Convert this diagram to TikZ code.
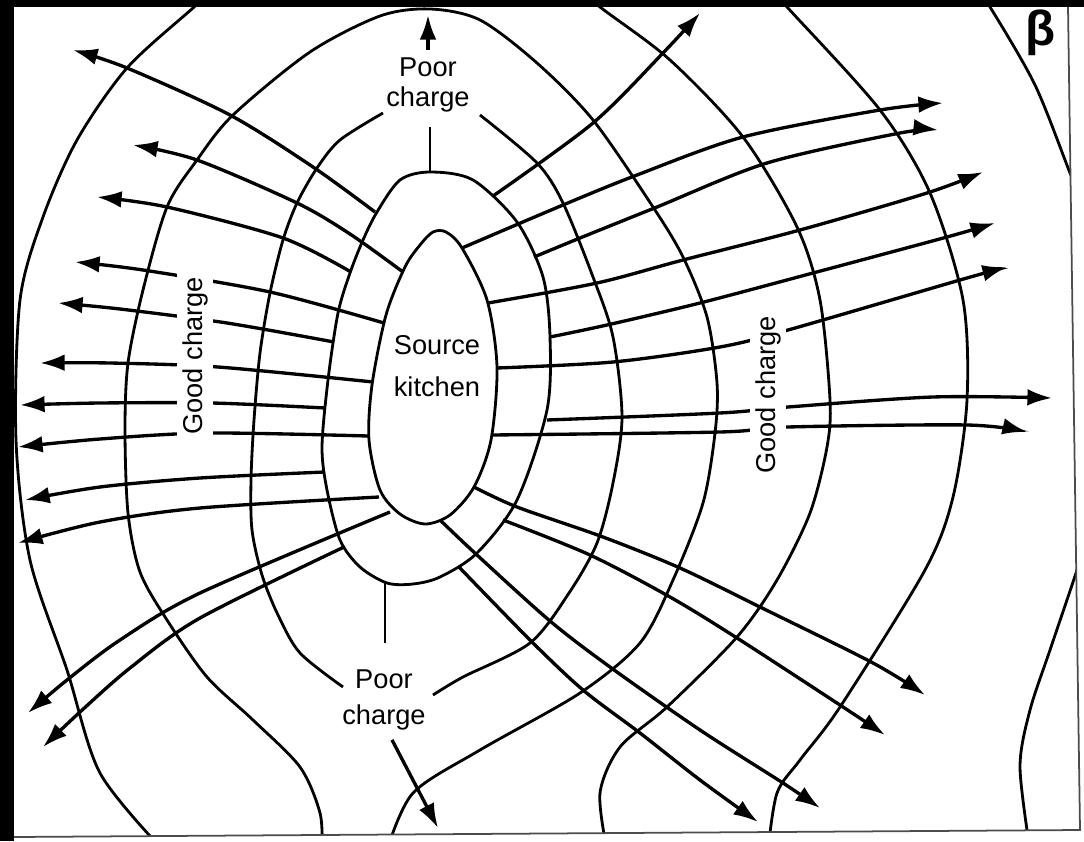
\documentclass[tikz,border=0pt]{standalone}
\usepackage{fontspec}
\setmainfont{Liberation Sans}
\usetikzlibrary{arrows.meta}
\begin{document}
\begin{tikzpicture}[x=0.02cm,y=-0.02cm,
    cont/.style={line width=1.6pt},
    flow/.style={line width=1.9pt,-{Latex[length=14pt,width=9.5pt]}},
    lbl/.style={font=\fontsize{15.5}{17}\selectfont,align=center,inner sep=1pt},
    gap/.style={lbl,fill=white,inner sep=3pt,rotate=90}]
    \useasboundingbox (0,0) rectangle (1084,841);
    \begin{scope}
        \clip (14,7) -- (1068,7) -- (1080,830) -- (14,837) -- cycle;
        % contours
        \draw[cont] plot[smooth cycle] coordinates {(433,232) (446,232) (462,248) (487,300) (497,367) (491,440) (474,487) (450,515) (425,524) (400,514) (380,490) (369,440) (372,385) (386,315) (405,267) (420,245)};
        \draw[cont] plot[smooth cycle] coordinates {(430,172) (473,180) (517,222) (543,277) (550,337) (547,410) (517,500) (477,553) (440,577) (413,584) (387,583) (360,567) (340,540) (327,490) (322,447) (328,380) (338,313) (350,273) (363,240) (377,212) (400,180)};
        \draw[cont] plot[smooth] coordinates {(480,115) (537,163) (563,203) (593,277) (613,337) (622,417) (613,483) (597,543) (569,593) (530,643) (463,677) (433,695)};
        \draw[cont] plot[smooth] coordinates {(383,113) (340,140) (317,168) (297,203) (283,240) (270,293) (260,353) (254,420) (251,480) (252,530) (262,575) (278,615) (300,653) (343,687)};
        \draw[cont] plot[smooth] coordinates {(322,850) (320,813) (300,767) (253,720) (207,677) (167,620) (140,572) (128,513) (125,430) (128,363) (143,290) (167,207) (197,160) (233,115) (310,52) (380,16) (430,9) (480,20) (537,63) (593,120) (653,207) (683,257) (707,317) (717,383) (715,433) (703,503) (673,580) (640,643) (580,693) (480,750) (413,793) (387,850)};
        \draw[cont] plot[smooth] coordinates {(163,850) (100,773) (67,670) (30,560) (16,440) (20,300) (43,217) (77,140) (127,68) (193,8) (215,-12)};
        \draw[cont] plot[smooth] coordinates {(580,-12) (600,7) (670,60) (743,137) (797,227) (820,300) (830,400) (827,447) (810,513) (777,580) (737,637) (667,707) (620,747) (600,793) (607,850)};
        \draw[cont] plot[smooth] coordinates {(770,-12) (787,7) (880,110) (930,193) (963,300) (967,400) (953,497) (925,570) (840,707) (800,760) (777,793) (768,850)};
        \draw[cont] plot[smooth] coordinates {(975,-12) (990,7) (1035,85) (1070,173) (1085,210)};
        \draw[cont] plot[smooth] coordinates {(1090,530) (1072,585) (1050,650) (1030,710) (1020,767) (1030,850)};
        % flow lines to the left
        \draw[flow] plot[smooth] coordinates {(375,212) (313,167) (230,115) (127,68) (73,50)};
        \draw[flow] plot[smooth] coordinates {(403,272) (350,234) (297,203) (197,160) (133,145)};
        \draw[flow] plot[smooth] coordinates {(351,272) (283,238) (167,207) (97,197)};
        \draw[flow] plot[smooth] coordinates {(384,323) (270,292) (143,270) (75,262)};
        \draw[flow] plot[smooth] coordinates {(334,342) (227,323) (120,309) (58,303)};
        \draw[flow] plot[smooth] coordinates {(373,382) (218,367) (110,363) (40,363)};
        \draw[flow] plot[smooth] coordinates {(325,408) (212,403) (100,403) (20,405)};
        \draw[flow] plot[smooth] coordinates {(368,436) (208,433) (100,439) (18,447)};
        \draw[flow] plot[smooth] coordinates {(325,472) (200,478) (100,487) (25,500)};
        \draw[flow] plot[smooth] coordinates {(379,497) (200,508) (100,522) (18,543)};
        \draw[flow] plot[smooth] coordinates {(390,512) (200,593) (120,640) (67,680) (28,713)};
        \draw[flow] plot[smooth] coordinates {(344,547) (200,618) (130,668) (80,712) (43,747)};
        % flow lines to the right
        \draw[flow] plot[smooth] coordinates {(493,196) (593,123) (663,53) (700,13)};
        \draw[flow] plot[smooth] coordinates {(462,248) (563,205) (637,175) (743,137) (880,110) (943,103)};
        \draw[flow] plot[smooth] coordinates {(534,257) (580,238) (657,207) (767,163) (900,133) (938,130)};
        \draw[flow] plot[smooth] coordinates {(488,303) (597,283) (683,260) (800,230) (927,193) (983,172)};
        \draw[flow] plot[smooth] coordinates {(550,337) (607,325) (700,303) (813,273) (947,237) (995,223)};
        \draw[flow] plot[smooth] coordinates {(497,368) (613,362) (720,347) (788,330) (960,280) (1007,267)};
        \draw[flow] plot[smooth] coordinates {(547,420) (720,413) (788,407) (933,397) (1052,398)};
        \draw[flow] plot[smooth] coordinates {(492,435) (720,432) (788,427) (967,425) (1027,432)};
        \draw[flow] plot[smooth] coordinates {(474,487) (517,507) (603,537) (680,568) (760,607) (873,663) (925,695)};
        \draw[flow] plot[smooth] coordinates {(503,520) (590,555) (670,597) (737,638) (843,707) (885,735)};
        \draw[flow] plot[smooth] coordinates {(440,520) (477,555) (550,621) (610,667) (700,730) (783,783) (820,808)};
        \draw[flow] plot[smooth] coordinates {(458,566) (530,640) (583,690) (640,733) (700,780) (758,822)};
    \end{scope}
    % labels
    \node[gap] (goodl) at (195,356) {Good charge};
    \node[gap] (goodr) at (768,395) {Good charge};
    \node[lbl] (src) at (437,366) {Source\\[7pt]kitchen};
    \node[lbl] (ptop) at (428,85) {Poor\\charge};
    \node[lbl] (pbot) at (384,700) {Poor\\[3pt]charge};
    \coordinate (c2top) at (430,172);
    \coordinate (c2bot) at (385,583);
    \coordinate (uptip) at (428,15);
    \coordinate (dntip) at (438,828);
    \draw[cont] (c2top) -- ++(0,-45);
    \draw[cont] (c2bot) -- ++(0,60);
    \draw[flow] (ptop.north) ++(0,-6) -- (uptip);
    \draw[flow] (pbot.south) ++(8,8) -- (dntip);
    % frame
    \fill (0,0) rectangle (14,841);
    \fill (0,0) rectangle (1084,7);
    \draw[line width=1pt,black!70] (14,837) -- (1080,830) -- (1068,7);
    \node[font=\fontsize{28}{30}\selectfont\bfseries] (beta) at (1040,33) {β};
\end{tikzpicture}
\end{document}
